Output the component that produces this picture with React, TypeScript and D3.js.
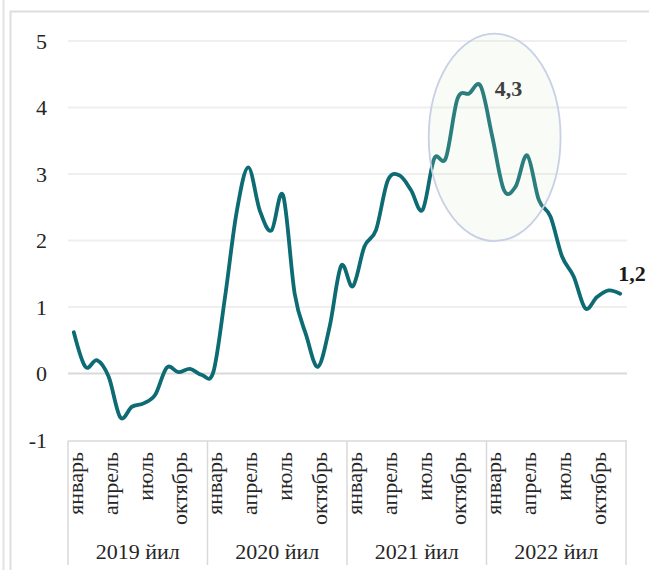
import * as d3 from "d3";
import { useEffect, useRef } from "react";

// monthly values, Jan 2019 .. Dec 2022
const values = [
  0.62, 0.1, 0.2, -0.05, -0.66, -0.5, -0.45, -0.32, 0.09, 0.02, 0.07, -0.02,
  0.02, 1.14, 2.42, 3.1, 2.45, 2.15, 2.68, 1.2, 0.57, 0.1, 0.7, 1.62,
  1.31, 1.91, 2.16, 2.9, 2.98, 2.76, 2.46, 3.23, 3.24, 4.13, 4.21, 4.32,
  3.56, 2.76, 2.81, 3.28, 2.61, 2.36, 1.76, 1.46, 0.98, 1.15, 1.25, 1.2,
];
const years = ["2019 йил", "2020 йил", "2021 йил", "2022 йил"];
const monthNames = ["январь", "", "", "апрель", "", "", "июль", "", "", "октябрь", "", ""];
const yTicks = [-1, 0, 1, 2, 3, 4, 5];
const pointLabels = [
  { idx: 35, text: "4,3", color: "#404040" },
  { idx: 47, text: "1,2", color: "#1a1a1a" },
];
// highlight ellipse in data units (month index / value)
const highlight = { cx: 36.2, cy: 3.55, rxMonths: 5.67, ryUnits: 1.56 };

const W = 649;
const H = 570;
const margin = { top: 41, bottom: 130, left: 68, right: 23 };
const font = "Liberation Serif";

const App = () => {
  const ref = useRef(null);

  useEffect(() => {
    const svg = d3.select(ref.current);
    svg.selectAll("*").remove();

    const x0 = margin.left;
    const x1 = W - margin.right;
    const yTop = margin.top;
    const yBottom = H - margin.bottom;

    const months = values.map((_, i) => i);
    const scaleX = d3.scaleBand().domain(months).range([x0, x1]);
    const cx = (i) => scaleX(i) + scaleX.bandwidth() / 2;
    const scaleY = d3.scaleLinear().domain([-1, 5]).range([yBottom, yTop]);

    // frame lines
    svg.append("line").attr("x1", 3.5).attr("x2", 3.5).attr("y1", 0).attr("y2", H)
      .style("stroke", "#e3e3e3").style("stroke-width", 2);
    svg.append("path").attr("d", `M10.5,${H} V11.5 H${W}`)
      .style("fill", "none").style("stroke", "#dedede").style("stroke-width", 2);

    // gridlines
    svg.append("g").selectAll("line").data(yTicks.filter(d => d > -1)).enter()
      .append("line")
      .attr("x1", x0).attr("x2", x1 + 1)
      .attr("y1", d => scaleY(d)).attr("y2", d => scaleY(d))
      .style("stroke", d => d === 0 ? "#d9d9d9" : "#efefef")
      .style("stroke-width", 2);

    // y labels
    svg.append("g").selectAll("text").data(yTicks).enter()
      .append("text")
      .attr("x", 47).attr("y", d => scaleY(d))
      .attr("dy", "0.35em")
      .attr("text-anchor", "end")
      .attr("font-family", font).attr("font-size", 22).attr("fill", "#262626")
      .text(d => d);

    // category axis
    const yearW = (x1 - x0) / years.length;
    svg.append("line").attr("x1", x0).attr("x2", x1 + 1)
      .attr("y1", yBottom + 1).attr("y2", yBottom + 1)
      .style("stroke", "#d9d9d9").style("stroke-width", 1.5);
    svg.append("g").selectAll("line").data(d3.range(years.length + 1)).enter()
      .append("line")
      .attr("x1", d => x0 + d * yearW).attr("x2", d => x0 + d * yearW)
      .attr("y1", yBottom + 1).attr("y2", 565)
      .style("stroke", "#d9d9d9").style("stroke-width", 1.5);

    svg.append("g").selectAll("text")
      .data(months.filter(i => monthNames[i % 12]))
      .enter()
      .append("text")
      .attr("transform", i => `translate(${cx(i) + 2}, ${yBottom + 12}) rotate(-90)`)
      .attr("dy", "0.32em")
      .attr("text-anchor", "end")
      .attr("font-family", font).attr("font-size", 22).attr("fill", "#262626")
      .text(i => monthNames[i % 12]);

    svg.append("g").selectAll("text").data(years).enter()
      .append("text")
      .attr("x", (d, k) => x0 + yearW * (k + 0.5))
      .attr("y", 551)
      .attr("dy", "0.35em")
      .attr("text-anchor", "middle")
      .attr("font-family", font).attr("font-size", 22).attr("fill", "#262626")
      .text(d => d);

    // the line
    const line = d3.line()
      .x((d, i) => cx(i))
      .y(d => scaleY(d))
      .curve(d3.curveCardinal.tension(0));
    svg.append("path")
      .datum(values)
      .attr("d", line)
      .style("fill", "none")
      .style("stroke", "#0d6b73")
      .style("stroke-width", 3.8)
      .style("stroke-linecap", "round")
      .style("stroke-linejoin", "round");

    // highlight ellipse on top
    const step = scaleX.step();
    svg.append("ellipse")
      .attr("cx", cx(0) + highlight.cx * step)
      .attr("cy", scaleY(highlight.cy))
      .attr("rx", highlight.rxMonths * step)
      .attr("ry", scaleY(0) - scaleY(highlight.ryUnits))
      .style("fill", "rgb(215,228,195)")
      .style("fill-opacity", 0.15)
      .style("stroke", "#c8d0e6")
      .style("stroke-width", 1.8);

    // value labels
    svg.append("g").selectAll("text").data(pointLabels).enter()
      .append("text")
      .attr("x", d => cx(d.idx) + (d.idx === 47 ? -2 : 14))
      .attr("y", d => scaleY(values[d.idx]) + (d.idx === 47 ? -13 : 10))
      .attr("font-family", font).attr("font-size", 22).attr("font-weight", "bold")
      .attr("fill", d => d.color)
      .text(d => d.text);
  }, []);

  return (
    <svg ref={ref} width={W} height={H}
      style={{ position: "absolute", left: 0, top: 0, background: "#fff" }}></svg>
  );
};

export default App;
